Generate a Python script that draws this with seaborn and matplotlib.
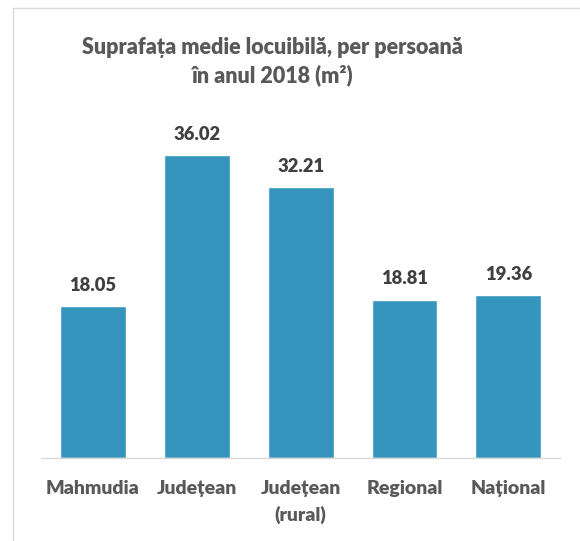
import matplotlib
matplotlib.use("Agg")
import matplotlib.pyplot as plt
import seaborn as sns
from matplotlib import font_manager as fm
from matplotlib.patches import Rectangle

categories = ["Mahmudia", "Județean", "Județean\n(rural)", "Regional", "Național"]
values = [18.05, 36.02, 32.21, 18.81, 19.36]
value_labels = ["18.05", "36.02", "32.21", "18.81", "19.36"]

sns.set_style("white")
plt.rcParams['font.family'] = ['Lato', 'DejaVu Sans']

# heavier Lato cut, closer to the bold Calibri of the original
heavy_files = [f.fname for f in fm.fontManager.ttflist
               if f.name == "Lato" and f.weight == 800 and f.style == "normal"]
if heavy_files:
    fp = lambda size: fm.FontProperties(fname=heavy_files[0], size=size)
else:
    fp = lambda size: fm.FontProperties(family=["Lato", "DejaVu Sans"], weight="bold", size=size)

fig = plt.figure(figsize=(5.8, 5.41), dpi=100)
ax = fig.add_axes([0.0707, 0.1534, 0.8953, 0.6216])

sns.barplot(x=categories, y=values, color="#3595bc", saturation=1, width=0.635, ax=ax)

ax.set_ylim(0, 40)
ax.set_yticks([])
ax.set_ylabel("")
for s in ["top", "right", "left"]:
    ax.spines[s].set_visible(False)
ax.spines["bottom"].set_color("#d9d9d9")
ax.spines["bottom"].set_linewidth(1)
ax.tick_params(axis="x", length=0, pad=15.5)
for lbl in ax.get_xticklabels():
    lbl.set_fontproperties(fp(14))
    lbl.set_color("#595959")
    lbl.set_linespacing(1.6)

for i, (v, t) in enumerate(zip(values, value_labels)):
    ax.annotate(t, (i, v), xytext=(0, 9), textcoords="offset points",
                ha="center", va="bottom", fontproperties=fp(13.2), color="#404040")

fig.text(0.469, 0.886, "Suprafața medie locuibilă, per persoană\nîn anul 2018 (m²)",
         ha="center", va="center", fontproperties=fp(15.5),
         color="#595959", linespacing=1.38)

# chart border
fig.patches.append(Rectangle((13 / 580, -0.05), 1.1, 1 - 8 / 541 + 0.05,
                             transform=fig.transFigure, fill=False,
                             edgecolor="#d9d9d9", linewidth=1))

fig.savefig("out.png", dpi=100)
